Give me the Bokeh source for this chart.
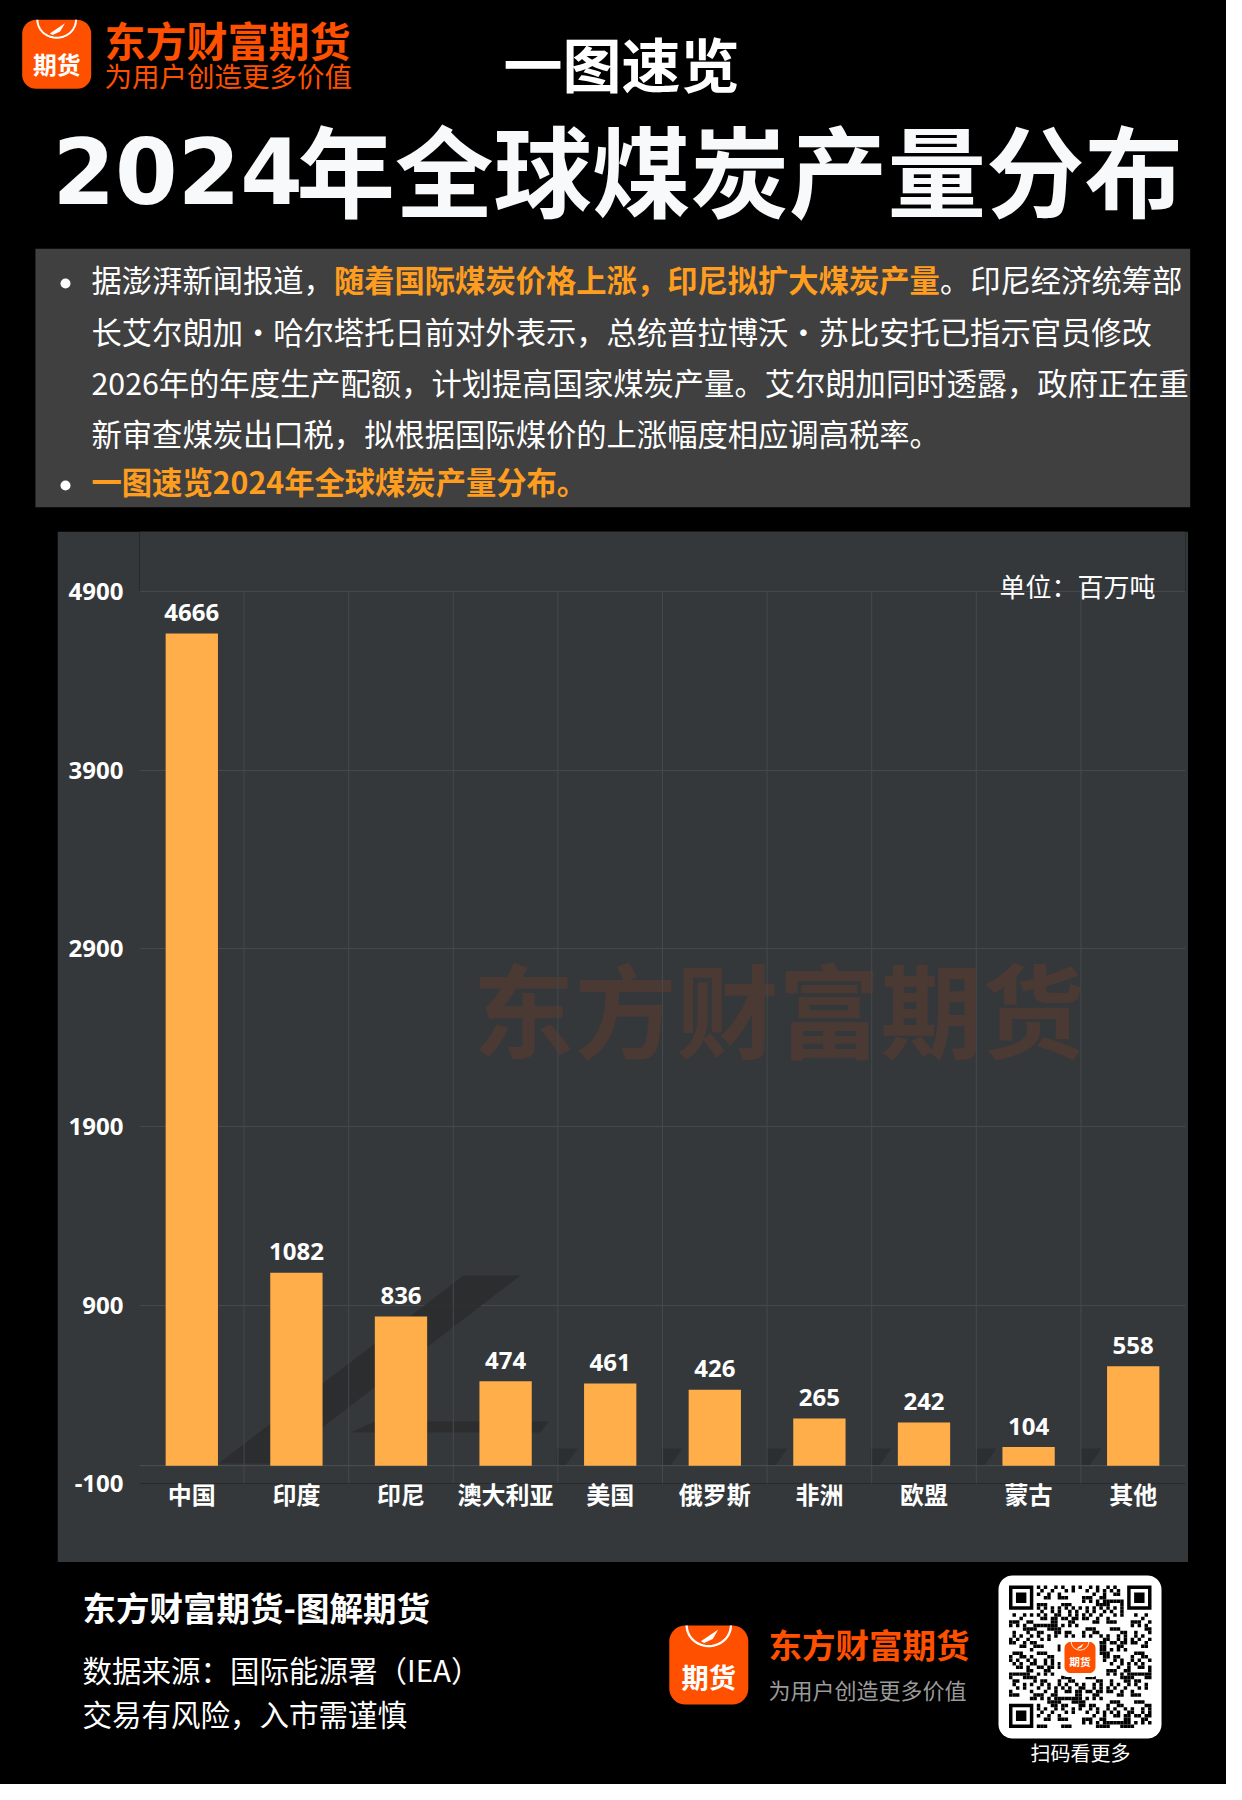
import numpy as np
from bokeh.plotting import figure
from bokeh.models import Range1d, FactorRange, FixedTicker, ColumnDataSource
from bokeh.layouts import column, row
from bokeh.embed import file_html
from bokeh.resources import INLINE
from bokeh.core.properties import value

# ---------------- data ----------------
categories = ["中国", "印度", "印尼", "澳大利亚", "美国", "俄罗斯", "非洲", "欧盟", "蒙古", "其他"]
production = [4666, 1082, 836, 474, 461, 426, 265, 242, 104, 558]
value_labels = [str(v) for v in production]
y_ticks = [-100, 900, 1900, 2900, 3900, 4900]
y_tick_labels = ["-100", "900", "1900", "2900", "3900", "4900"]

brand_name = "东方财富期货"
brand_slogan = "为用户创造更多价值"
kicker = "一图速览"
title_year = "2024"
title_rest = "年全球煤炭产量分布"
unit_text = "单位：百万吨"
line1_a = "据澎湃新闻报道，"
line1_b = "随着国际煤炭价格上涨，印尼拟扩大煤炭产量"
line1_c = "。印尼经济统筹部"
body_lines = [
    "长艾尔朗加・哈尔塔托日前对外表示，总统普拉博沃・苏比安托已指示官员修改",
    "2026年的年度生产配额，计划提高国家煤炭产量。艾尔朗加同时透露，政府正在重",
    "新审查煤炭出口税，拟根据国际煤价的上涨幅度相应调高税率。",
]
bullet2 = "一图速览2024年全球煤炭产量分布。"
footer_title = "东方财富期货-图解期货"
footer_source = "数据来源：国际能源署（IEA）"
footer_risk = "交易有风险，入市需谨慎"
qr_caption = "扫码看更多"

# ---------------- style ----------------
CJK = "Noto Sans CJK SC"
LAT = "Noto Sans"
BLACK = "#000000"
PANEL = "#35383b"
GRID = "#46494c"
BAR = "#ffae4a"
BRAND = "#ff5000"
HIGHLIGHT = "#ff9d1f"
BOX = "#404040"
SHADOW = "#2a2c2e"
PAGE_W = 1226


def txt(p, x, y, s, size, color="white", bold=False, align="left",
        baseline="middle", font=CJK, **kw):
    p.text(x=[x], y=[y], text=[s], text_font=value(font),
           text_font_size=f"{size}px", text_color=color,
           text_font_style="bold" if bold else "normal",
           text_align=align, text_baseline=baseline, **kw)


def rrect(x0, y0, x1, y1, r):
    xs, ys = [], []
    for cx, cy, a0 in [(x1 - r, y0 + r, -90), (x1 - r, y1 - r, 0),
                       (x0 + r, y1 - r, 90), (x0 + r, y0 + r, 180)]:
        t = np.radians(np.linspace(a0, a0 + 90, 10))
        xs += list(cx + r * np.cos(t))
        ys += list(cy + r * np.sin(t))
    return xs, ys


def logo(p, x0, y0, s):
    xs, ys = rrect(x0, y0, x0 + s, y0 + s, 0.2 * s)
    p.patch(xs, ys, fill_color=BRAND, line_color=None)
    cx = x0 + s / 2
    t = np.linspace(0, np.pi, 30)
    p.line(list(cx + 0.28 * s * np.cos(t)), list(y0 + 0.26 * s * np.sin(t)),
           line_color="white", line_width=max(1.0, s / 35))
    p.patch([cx - 0.1 * s, cx + 0.12 * s, cx + 0.05 * s, cx - 0.06 * s],
            [y0 + 0.2 * s, y0 + 0.05 * s, y0 + 0.17 * s, y0 + 0.22 * s],
            fill_color="white", line_color=None)
    txt(p, cx, y0 + 0.64 * s, "期货", 0.345 * s, bold=True, align="center")


def blank_fig(w, h, xr, yr):
    p = figure(width=w, height=h, x_range=xr, y_range=yr, output_backend="svg",
               toolbar_location=None, x_axis_type=None, y_axis_type=None,
               min_border=0, background_fill_color=BLACK,
               border_fill_color=BLACK, outline_line_color=None)
    p.grid.visible = False
    return p


# ---------------- header (page y 0..531) ----------------
header = blank_fig(PAGE_W, 531, Range1d(0, PAGE_W), Range1d(531, 0))
logo(header, 21.7, 19.3, 69)
txt(header, 104, 38, brand_name, 41, color=BRAND, bold=True)
txt(header, 104, 74, brand_slogan, 27.5, color=BRAND)
txt(header, 621, 62, kicker, 59, bold=True, align="center")
txt(header, 52, 170, title_year, 90, color="#f8f9fa", bold=True, font="DejaVu Sans")
txt(header, 296, 166, title_rest, 98.5, color="#f8f9fa", bold=True)

header.quad(left=[34.9], right=[1189.7], top=[248.3], bottom=[506.7],
            fill_color=BOX, line_color=None)
header.scatter(x=[65, 65], y=[283, 485], size=10, fill_color="white", line_color=None)
FS = 30.3
x0 = 91
dy = -5
txt(header, x0, 283 + dy, line1_a, FS)
txt(header, x0 + FS * len(line1_a), 283 + dy, line1_b, FS, color=HIGHLIGHT, bold=True)
txt(header, x0 + FS * (len(line1_a) + len(line1_b)), 283 + dy, line1_c, FS)
for yy, s in zip([335, 386.5, 437], body_lines):
    txt(header, x0, yy + dy, s, FS)
txt(header, x0, 485 + dy, bullet2, FS, color=HIGHLIGHT, bold=True)

# ---------------- chart (page y 531..1562, x 57..1188) ----------------
FRAME_H = 952
PX_PER_5000 = 891.7
y_top = -100 + FRAME_H * 5000 / PX_PER_5000
FRAME_L, FRAME_R = 139, 1185
ncat = len(categories)


def sx(px):
    """page-pixel x -> synthetic categorical coordinate"""
    return (np.asarray(px, dtype=float) - FRAME_L) / (FRAME_R - FRAME_L) * ncat


chart = figure(width=1131, height=1031, x_range=FactorRange(factors=categories),
               y_range=Range1d(-100, y_top), output_backend="svg",
               toolbar_location=None, min_border_left=82, min_border_right=3,
               min_border_top=0, min_border_bottom=79,
               background_fill_color=PANEL, border_fill_color=PANEL,
               outline_line_color=None)
chart.extra_y_ranges = {"py": Range1d(1483, 531)}

ticker = FixedTicker(ticks=y_ticks)
chart.yaxis.ticker = ticker
chart.ygrid.ticker = ticker
chart.yaxis.major_label_overrides = {t: l for t, l in zip(y_ticks, y_tick_labels)}
chart.ygrid.grid_line_color = GRID
chart.xgrid.visible = False
for ax in (chart.xaxis, chart.yaxis):
    ax.axis_line_color = None
    ax.major_tick_line_color = None
    ax.minor_tick_line_color = None
    ax.major_tick_out = 0
    ax.major_tick_in = 0
    ax.minor_tick_out = 0
    ax.major_label_text_color = "white"
    ax.major_label_text_font_style = "bold"
    ax.major_label_text_font_size = "24px"
chart.yaxis.major_label_text_font = LAT
chart.yaxis.major_label_standoff = 16
chart.xaxis.major_label_text_font = CJK
chart.xaxis.major_label_standoff = -8

# decorative shadows and watermark
chart.patch(list(sx([218, 275, 520, 463])), [1463, 1463, 1275, 1275],
            y_range_name="py", fill_color=SHADOW, line_color=None, fill_alpha=0.85)
chart.patch(list(sx([350, 375, 548, 540])), [1432, 1421, 1421, 1432],
            y_range_name="py", fill_color=SHADOW, line_color=None, fill_alpha=0.85)
for cx_px in [559, 664, 769, 873, 978, 1083]:
    chart.patch(list(sx([cx_px - 3, cx_px - 3, cx_px + 18, cx_px + 6])),
                [1465, 1448, 1448, 1465], y_range_name="py",
                fill_color=SHADOW, line_color=None, fill_alpha=0.7)
txt(chart, float(sx(778)), 1006, brand_name, 102, color="#4b3934", bold=True,
    align="center", y_range_name="py")

# category boundary lines and zero line
nb = ncat + 1
chart.segment(x0=list(range(nb)), y0=[y_ticks[0]] * nb, x1=list(range(nb)),
              y1=[y_ticks[-1]] * nb, line_color=GRID, line_width=1)
chart.segment(x0=[0], y0=[0], x1=[ncat], y1=[0], line_color="#4d5053", line_width=1)

src = ColumnDataSource(dict(cat=categories, val=production, lab=value_labels))
chart.vbar(x="cat", top="val", bottom=0, width=0.5, source=src,
           fill_color=BAR, line_color=None)
chart.text(x="cat", y="val", text="lab", source=src, text_font=value(LAT),
           text_font_size="24px", text_font_style="bold", text_color="white",
           text_align="center", text_baseline="alphabetic", y_offset=-21)
txt(chart, float(sx(1155)), 585, unit_text, 26, align="right", y_range_name="py")

fill_l = blank_fig(57, 1031, Range1d(0, 1), Range1d(0, 1))
fill_l.quad(left=[0], right=[1], bottom=[0], top=[1], fill_color=BLACK, line_color=None)
fill_r = blank_fig(PAGE_W - 1188, 1031, Range1d(0, 1), Range1d(0, 1))
fill_r.quad(left=[0], right=[1], bottom=[0], top=[1], fill_color=BLACK, line_color=None)

# ---------------- footer (page y 1562..1784) ----------------
footer = blank_fig(PAGE_W, 222, Range1d(0, PAGE_W), Range1d(1784, 1562))
txt(footer, 82, 1606, footer_title, 33.5, bold=True)
txt(footer, 82, 1668, footer_source, 29.5)
txt(footer, 82, 1712, footer_risk, 29.5)
logo(footer, 668.8, 1625, 79)
txt(footer, 768, 1643, brand_name, 33.5, color=BRAND, bold=True)
txt(footer, 768, 1688, brand_slogan, 22, color="#9a9a9a")

# QR code block (decorative)
qx, qy = rrect(998, 1575, 1161, 1738, 14)
footer.patch(qx, qy, fill_color="white", line_color=None)
N = 41
m = 142.5 / N
ox, oy = 1008.5, 1585
L, R, T, B = [], [], [], []


def cell(i, j):
    L.append(ox + j * m); R.append(ox + (j + 1) * m)
    T.append(oy + i * m); B.append(oy + (i + 1) * m)


for (fi, fj) in [(0, 0), (0, N - 7), (N - 7, 0)]:
    for k, col in [(0, "black"), (1, "white"), (2, "black")]:
        footer.quad(left=[ox + (fj + k) * m], right=[ox + (fj + 7 - k) * m],
                    top=[oy + (fi + k) * m], bottom=[oy + (fi + 7 - k) * m],
                    fill_color=col, line_color=None)


def reserved(i, j):
    if (i < 8 and j < 8) or (i < 8 and j >= N - 8) or (i >= N - 8 and j < 8):
        return True
    return 15 <= i <= 25 and 15 <= j <= 25


for i in range(N):
    for j in range(N):
        if reserved(i, j):
            continue
        if i == 6 or j == 6:
            if (i + j) % 2 == 0:
                cell(i, j)
            continue
        if ((i * 31 + j * 17 + (i * j) % 7) % 5) < 2:
            cell(i, j)
footer.quad(left=L, right=R, top=T, bottom=B, fill_color="black", line_color=None)
wx, wy = rrect(1060, 1637.5, 1099, 1676.5, 7)
footer.patch(wx, wy, fill_color="white", line_color=None)
logo(footer, 1064, 1641.5, 31)
txt(footer, 1080, 1752, qr_caption, 20, align="center")

mid = row(fill_l, chart, fill_r, spacing=0, styles={"background-color": "black"})
layout = column(header, mid, footer, spacing=0, styles={"background-color": "black"})
open("out.html", "w").write(file_html(layout, INLINE))
